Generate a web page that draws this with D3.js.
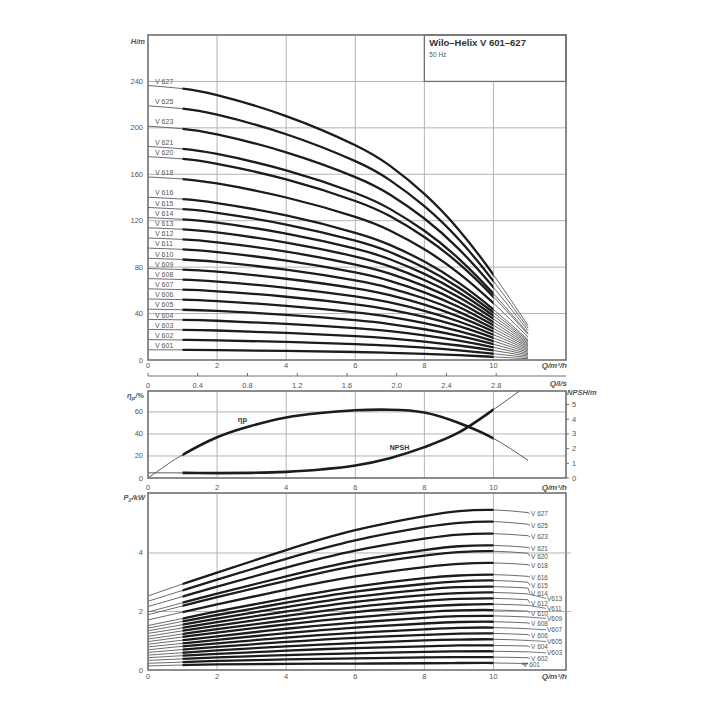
<!DOCTYPE html>
<html>
<head>
<meta charset="utf-8">
<script src="https://cdn.jsdelivr.net/npm/d3@7"></script>
<style>
body{margin:0;background:#fff}
text{font-family:"Liberation Sans Narrow","Arial Narrow","Liberation Sans",sans-serif;fill:#555}
</style>
</head>
<body>
<div id="myVis"></div>
<script>
// ---- data ----
const models = ["V 601","V 602","V 603","V 604","V 605","V 606","V 607","V 608","V 609","V 610","V 611",
  "V 612","V 613","V 614","V 615","V 616","V 618","V 620","V 621","V 623","V 625","V 627"]
const stages = [1,2,3,4,5,6,7,8,9,10,11,12,13,14,15,16,18,20,21,23,25,27]

// H/m at these flows (m3/h)
const qHead = [0,1,2,4,6,7,8,9,10,11]
const head = [
  [8.8,8.7,8.5,7.8,6.9,6.2,5.3,4.2,2.7,1.1],
  [17.5,17.3,16.9,15.6,13.7,12.4,10.6,8.3,5.4,2.2],
  [26.3,26.0,25.4,23.3,20.6,18.6,15.9,12.5,8.2,3.3],
  [35.0,34.6,33.8,31.1,27.4,24.8,21.2,16.6,10.9,4.4],
  [43.8,43.3,42.3,38.9,34.3,31.0,26.5,20.8,13.6,5.5],
  [52.6,52.0,50.7,46.7,41.1,37.2,31.8,24.9,16.3,6.6],
  [61.3,60.6,59.2,54.5,48.0,43.4,37.1,29.1,19.0,7.7],
  [70.1,69.3,67.6,62.2,54.8,49.6,42.4,33.2,21.8,8.8],
  [78.8,77.9,76.1,70.0,61.7,55.8,47.7,37.4,24.5,9.9],
  [87.6,86.6,84.5,77.8,68.5,62.0,53.0,41.5,27.2,11.0],
  [96.4,95.3,93.0,85.6,75.4,68.2,58.3,45.7,29.9,12.1],
  [105.1,103.9,101.4,93.4,82.2,74.4,63.6,49.8,32.6,13.2],
  [113.9,112.6,109.9,101.1,89.1,80.6,68.9,54.0,35.4,14.3],
  [122.6,121.2,118.3,108.9,95.9,86.8,74.2,58.1,38.1,15.4],
  [131.4,129.9,126.8,116.7,102.8,93.0,79.5,62.3,40.8,16.5],
  [140.2,138.6,135.2,124.5,109.6,99.2,84.8,66.4,43.5,17.6],
  [157.7,155.9,152.1,140.0,123.3,111.6,95.4,74.7,49.0,19.8],
  [175.2,173.2,169.0,155.6,137.0,124.0,106.0,83.0,54.4,22.0],
  [184.0,181.9,177.5,163.4,143.9,130.2,111.3,87.2,57.1,23.1],
  [201.5,199.2,194.4,178.9,157.6,142.6,121.9,95.5,62.6,25.3],
  [219.0,216.5,211.3,194.5,171.3,155.0,132.5,103.8,68.0,27.5],
  [236.5,233.8,228.2,210.1,185.0,167.4,143.1,112.1,73.4,29.7]
]

// P2/kW at these flows
const qPower = [0,1,2,4,6,8,9,10,11]
const power = [
  [0.14,0.17,0.19,0.21,0.22,0.23,0.24,0.24,0.22],
  [0.23,0.27,0.31,0.36,0.40,0.43,0.44,0.44,0.42],
  [0.33,0.38,0.43,0.51,0.57,0.62,0.64,0.64,0.62],
  [0.42,0.49,0.55,0.66,0.75,0.81,0.84,0.84,0.82],
  [0.51,0.59,0.67,0.81,0.92,1.01,1.04,1.05,1.01],
  [0.60,0.70,0.79,0.96,1.10,1.20,1.24,1.25,1.21],
  [0.69,0.81,0.91,1.11,1.27,1.39,1.44,1.45,1.41],
  [0.79,0.91,1.03,1.26,1.45,1.59,1.64,1.65,1.61],
  [0.88,1.02,1.15,1.41,1.62,1.78,1.84,1.85,1.81],
  [0.97,1.13,1.28,1.56,1.80,1.98,2.04,2.05,2.01],
  [1.06,1.23,1.40,1.70,1.98,2.17,2.23,2.25,2.21],
  [1.15,1.34,1.52,1.85,2.15,2.36,2.43,2.45,2.40],
  [1.25,1.44,1.64,2.00,2.33,2.56,2.63,2.65,2.60],
  [1.34,1.55,1.76,2.15,2.50,2.75,2.83,2.85,2.80],
  [1.43,1.66,1.88,2.30,2.68,2.94,3.03,3.06,3.00],
  [1.52,1.76,2.00,2.45,2.85,3.14,3.23,3.26,3.20],
  [1.71,1.98,2.24,2.75,3.20,3.52,3.63,3.66,3.60],
  [1.89,2.19,2.49,3.05,3.56,3.91,4.03,4.06,3.99],
  [1.98,2.30,2.61,3.20,3.73,4.10,4.23,4.26,4.19],
  [2.17,2.51,2.85,3.50,4.08,4.49,4.63,4.66,4.59],
  [2.35,2.72,3.09,3.80,4.43,4.88,5.03,5.07,4.98],
  [2.53,2.94,3.33,4.10,4.78,5.26,5.43,5.47,5.38]
]

// efficiency and NPSH
const qEta = [0,0.5,1,2,3,4,5,6,7,8,9,10,11]
const eta = [0,11,21,37,47.5,55,59,61.5,62,59.5,50,36,16]
const qNpsh = [0,1,2,3,4,5,6,7,8,9,10,10.8]
const npsh = [0.35,0.35,0.33,0.35,0.42,0.58,0.85,1.35,2.1,3.1,4.65,6.0]

const qTicks = [0,2,4,6,8,10]
const lsTicks = [0,0.4,0.8,1.2,1.6,2.0,2.4,2.8]
const headTicks = [0,40,80,120,160,200,240]
const etaTicks = [0,20,40,60]
const npshTicks = [0,1,2,3,4,5]
const powerTicks = [0,2,4]

// ---- layout ----
const width = 720, height = 720
const left = 148, right = 566

const svg = d3.select("#myVis").append("svg")
    .attr("width", width)
    .attr("height", height)
    .style("background-color", "white")

const x = d3.scaleLinear().domain([0, 12.1]).range([left, right])
const yH = d3.scaleLinear().domain([0, 280]).range([360, 35])
const yEta = d3.scaleLinear().domain([0, 79]).range([478, 391])
const yN = d3.scaleLinear().domain([0, 5.92]).range([478, 391])
const yP = d3.scaleLinear().domain([0, 6.05]).range([670, 493])

const gridCol = "#b4b4b4", frameCol = "#707070"
const thinCol = "#5a5a5a", thickCol = "#1c1c1c"

function grid(yScale, yVals) {
  const g = svg.append("g")
  const [y0, y1] = yScale.range()
  g.selectAll(".v").data(qTicks.slice(1)).enter().append("line")
    .attr("x1", d => x(d)).attr("x2", d => x(d))
    .attr("y1", y0).attr("y2", y1)
    .attr("stroke", gridCol).attr("stroke-width", 1)
  g.selectAll(".h").data(yVals.slice(1)).enter().append("line")
    .attr("x1", left).attr("x2", right)
    .attr("y1", d => yScale(d)).attr("y2", d => yScale(d))
    .attr("stroke", gridCol).attr("stroke-width", 1)
}

function frame(yScale) {
  const [y0, y1] = yScale.range()
  svg.append("rect")
    .attr("x", left).attr("y", y1)
    .attr("width", right - left).attr("height", y0 - y1)
    .attr("fill", "none").attr("stroke", frameCol).attr("stroke-width", 1.6)
}

function clipFor(id, yScale, x0, x1) {
  const [y0, y1] = yScale.range()
  svg.append("clipPath").attr("id", id).append("rect")
    .attr("x", x0).attr("y", y1 - 1).attr("width", x1 - x0).attr("height", y0 - y1 + 2)
}

function xLabels(yBase, title) {
  svg.append("g").selectAll("text").data(qTicks).enter().append("text")
    .attr("x", d => x(d)).attr("y", yBase)
    .attr("text-anchor", "middle").attr("font-size", 7.5)
    .text(d => d)
  svg.append("text").attr("x", right + 1).attr("y", yBase)
    .attr("text-anchor", "end").attr("font-size", 8)
    .attr("font-weight", "bold").attr("font-style", "italic")
    .text(title)
}

function yLabels(yScale, vals) {
  svg.append("g").selectAll("text").data(vals).enter().append("text")
    .attr("x", left - 5).attr("y", d => yScale(d) + 2.5)
    .attr("text-anchor", "end").attr("font-size", 7.5)
    .text(d => d)
}

// ========== H-Q panel ==========
grid(yH, headTicks)

// title box
svg.append("rect")
  .attr("x", x(8)).attr("y", yH(280))
  .attr("width", right - x(8)).attr("height", yH(240) - yH(280))
  .attr("fill", "white").attr("stroke", frameCol).attr("stroke-width", 1.3)
svg.append("text").attr("x", x(8) + 5).attr("y", yH(280) + 11)
  .attr("font-size", 9.5).attr("font-weight", "bold").style("fill", "#333")
  .text("Wilo–Helix V 601–627")
svg.append("text").attr("x", x(8) + 5).attr("y", yH(280) + 22)
  .attr("font-size", 6.5)
  .text("50 Hz")

const lineH = d3.line().x(d => x(d[0])).y(d => yH(d[1])).curve(d3.curveNatural)
const headPts = head.map(row => row.map((v, i) => [qHead[i], v]))

clipFor("clipH", yH, x(1), x(10))

svg.append("g").selectAll("path").data(headPts).enter().append("path")
  .attr("d", lineH).attr("fill", "none")
  .attr("stroke", thinCol).attr("stroke-width", 0.9)
svg.append("g").attr("clip-path", "url(#clipH)")
  .selectAll("path").data(headPts).enter().append("path")
  .attr("d", lineH).attr("fill", "none")
  .attr("stroke", thickCol).attr("stroke-width", 2.3)

svg.append("g").selectAll("text").data(models).enter().append("text")
  .attr("x", x(0) + 7).attr("y", (d, i) => yH(head[i][0]) - 1.8)
  .attr("font-size", 7).text(d => d)

frame(yH)
yLabels(yH, headTicks)
xLabels(368, "Q/m³/h")
svg.append("text").attr("x", left - 3).attr("y", 44)
  .attr("text-anchor", "end").attr("font-size", 7.5)
  .attr("font-weight", "bold").attr("font-style", "italic").text("H/m")

// l/s axis
const ls = d3.scaleLinear().domain([0, 12.1 / 3.6]).range([left, right])
svg.append("line").attr("x1", left).attr("x2", right).attr("y1", 376).attr("y2", 376)
  .attr("stroke", frameCol).attr("stroke-width", 1)
svg.append("g").selectAll("line").data(lsTicks).enter().append("line")
  .attr("x1", d => ls(d)).attr("x2", d => ls(d)).attr("y1", 376).attr("y2", 373)
  .attr("stroke", frameCol)
svg.append("g").selectAll("text").data(lsTicks).enter().append("text")
  .attr("x", d => ls(d)).attr("y", 387.5)
  .attr("text-anchor", "middle").attr("font-size", 7.5)
  .text(d => d === 0 ? "0" : d.toFixed(1))
svg.append("text").attr("x", right + 1).attr("y", 386)
  .attr("text-anchor", "end").attr("font-size", 8)
  .attr("font-weight", "bold").attr("font-style", "italic").text("Q/l/s")

// ========== efficiency / NPSH panel ==========
grid(yEta, etaTicks)
clipFor("clipMid", yEta, left, right)
clipFor("clipEta", yEta, x(1), x(10))

const lineEta = d3.line().x(d => x(d[0])).y(d => yEta(d[1])).curve(d3.curveNatural)
const lineN = d3.line().x(d => x(d[0])).y(d => yN(d[1])).curve(d3.curveMonotoneX)
const etaPts = qEta.map((q, i) => [q, eta[i]])
const npshPts = qNpsh.map((q, i) => [q, npsh[i]])

const mid = svg.append("g").attr("clip-path", "url(#clipMid)")
mid.append("path").attr("d", lineEta(etaPts)).attr("fill", "none")
  .attr("stroke", thinCol).attr("stroke-width", 1)
mid.append("path").attr("d", lineN(npshPts)).attr("fill", "none")
  .attr("stroke", thinCol).attr("stroke-width", 1)
const midThick = svg.append("g").attr("clip-path", "url(#clipEta)")
midThick.append("path").attr("d", lineEta(etaPts)).attr("fill", "none")
  .attr("stroke", thickCol).attr("stroke-width", 2.6)
midThick.append("path").attr("d", lineN(npshPts)).attr("fill", "none")
  .attr("stroke", thickCol).attr("stroke-width", 2.6)

svg.append("text").attr("x", x(2.6)).attr("y", yEta(51))
  .attr("font-size", 7.5).attr("font-weight", "bold").style("fill", "#333").text("ηp")
svg.append("text").attr("x", x(7.0)).attr("y", yN(1.9))
  .attr("font-size", 7).attr("font-weight", "bold").style("fill", "#333").text("NPSH")

frame(yEta)
yLabels(yEta, etaTicks)
svg.append("g").selectAll("text").data(npshTicks).enter().append("text")
  .attr("x", right + 6).attr("y", d => yN(d) + 2.5)
  .attr("font-size", 7.5).text(d => d)
svg.append("g").selectAll("line").data(npshTicks).enter().append("line")
  .attr("x1", right).attr("x2", right + 3)
  .attr("y1", d => yN(d)).attr("y2", d => yN(d)).attr("stroke", frameCol)
xLabels(489.5, "Q/m³/h")
const etaTitle = svg.append("text").attr("x", left - 4).attr("y", 398)
  .attr("text-anchor", "end").attr("font-size", 7.5)
  .attr("font-weight", "bold").attr("font-style", "italic")
etaTitle.append("tspan").text("η")
etaTitle.append("tspan").attr("font-size", 6).attr("dy", 1.5).text("p")
etaTitle.append("tspan").attr("dy", -1.5).text("/%")
svg.append("text").attr("x", right + 1).attr("y", 395)
  .attr("font-size", 7.5).attr("font-weight", "bold").attr("font-style", "italic")
  .text("NPSH/m")

// ========== power panel ==========
grid(yP, powerTicks)
clipFor("clipP", yP, x(1), x(10))

const lineP = d3.line().x(d => x(d[0])).y(d => yP(d[1])).curve(d3.curveNatural)
const powerPts = power.map(row => row.map((v, i) => [qPower[i], v]))

svg.append("g").selectAll("path").data(powerPts).enter().append("path")
  .attr("d", lineP).attr("fill", "none")
  .attr("stroke", thinCol).attr("stroke-width", 0.9)
svg.append("g").attr("clip-path", "url(#clipP)")
  .selectAll("path").data(powerPts).enter().append("path")
  .attr("d", lineP).attr("fill", "none")
  .attr("stroke", thickCol).attr("stroke-width", 2.3)

// right-hand labels, spread so they don't collide
const pEnd = power.map(r => r[r.length - 1])
const labs = models.map((m, i) => ({name: m, n: stages[i], p: pEnd[i]}))
  .sort((a, b) => b.n - a.n)
let lastCol = {}, lastAny = -1e9
labs.forEach(l => {
  l.col = l.n === 1 ? -1 : (l.n <= 13 && l.n % 2 === 1 ? 1 : 0)
  let y = yP(l.p) + 1
  if (lastCol[l.col] !== undefined) y = Math.max(y, lastCol[l.col] + 8)
  y = Math.max(y, lastAny + 5)
  l.y = y
  lastCol[l.col] = y
  lastAny = y
  l.x = l.col === 1 ? x(11) + 19 : (l.col === -1 ? x(11) - 5 : x(11) + 3)
  if (l.col === 1) l.name = l.name.replace(" ", "")
})
svg.append("g").selectAll("line").data(labs).enter().append("line")
  .attr("x1", x(11)).attr("y1", d => yP(d.p))
  .attr("x2", d => d.col === -1 ? x(11) - 6 : d.x - 1).attr("y2", d => d.y)
  .attr("stroke", thinCol).attr("stroke-width", 0.8)
svg.append("g").selectAll("text").data(labs).enter().append("text")
  .attr("x", d => d.x).attr("y", d => d.y + 2.3)
  .attr("font-size", 6.5).text(d => d.name)

frame(yP)
yLabels(yP, powerTicks)
svg.append("g").selectAll("line").data(powerTicks.slice(1)).enter().append("line")
  .attr("x1", right).attr("x2", right + 5)
  .attr("y1", d => yP(d)).attr("y2", d => yP(d)).attr("stroke", gridCol)
xLabels(679, "Q/m³/h")
const pTitle = svg.append("text").attr("x", left - 3).attr("y", 500)
  .attr("text-anchor", "end").attr("font-size", 7.5)
  .attr("font-weight", "bold").attr("font-style", "italic")
pTitle.append("tspan").text("P")
pTitle.append("tspan").attr("font-size", 5.5).attr("dy", 1.5).text("2")
pTitle.append("tspan").attr("dy", -1.5).text("/kW")
</script>
</body>
</html>
